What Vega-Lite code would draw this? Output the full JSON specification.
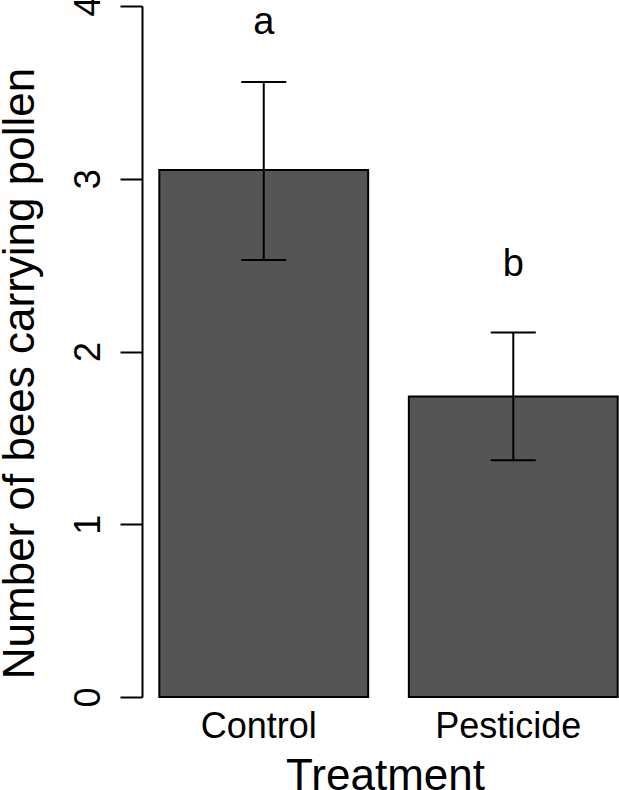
{
  "$schema": "https://vega.github.io/schema/vega-lite/v6.json",
  "width": 477,
  "height": 691,
  "autosize": {"type": "none"},
  "padding": {"left": 142, "top": 6, "right": 0, "bottom": 93},
  "background": "white",
  "config": {"view": {"stroke": null}, "font": "Liberation Sans"},
  "data": {
    "values": [
      {"treatment": "Control", "mean": 3.05, "lower": 2.53, "upper": 3.56, "letter": "a", "letter_y": 3.9},
      {"treatment": "Pesticide", "mean": 1.74, "lower": 1.37, "upper": 2.11, "letter": "b", "letter_y": 2.5}
    ]
  },
  "encoding": {
    "x": {
      "field": "treatment",
      "type": "nominal",
      "sort": null,
      "scale": {"paddingInner": 0.163, "paddingOuter": 0.0373, "align": 0.93},
      "axis": {
        "title": "Treatment",
        "domain": false,
        "ticks": false,
        "tickSize": 0,
        "labelAngle": 0,
        "labelFontSize": 36,
        "labelColor": "black",
        "labelBaseline": "alphabetic",
        "labelPadding": 40,
        "labelOffset": -5,
        "titleFontSize": 44,
        "titleFontWeight": "normal",
        "titleColor": "black",
        "titleX": 243,
        "titleY": 92,
        "titleAlign": "center",
        "titleBaseline": "alphabetic"
      }
    }
  },
  "layer": [
    {
      "mark": {"type": "bar", "fill": "#555555", "stroke": "black", "strokeWidth": 2, "opacity": 1},
      "encoding": {
        "y": {
          "field": "mean",
          "type": "quantitative",
          "scale": {"domain": [0, 4], "nice": false, "zero": true},
          "axis": {
            "title": "Number of bees carrying pollen",
            "values": [0, 1, 2, 3, 4],
            "format": "d",
            "grid": false,
            "domainColor": "black",
            "domainWidth": 2,
            "tickColor": "black",
            "tickWidth": 2,
            "tickSize": 22,
            "labelFontSize": 36,
            "labelColor": "black",
            "labelAngle": -90,
            "labelAlign": "center",
            "labelBaseline": "alphabetic",
            "labelPadding": 21,
            "labelFlush": false,
            "labelOverlap": false,
            "titleFontSize": 44,
            "titleFontWeight": "normal",
            "titleColor": "black",
            "titleAngle": -90,
            "titleX": -109,
            "titleY": 367,
            "titleAlign": "center",
            "titleBaseline": "alphabetic"
          }
        }
      }
    },
    {
      "mark": {"type": "rule", "color": "black", "strokeWidth": 2, "opacity": 1},
      "encoding": {
        "y": {"field": "lower", "type": "quantitative"},
        "y2": {"field": "upper"}
      }
    },
    {
      "mark": {"type": "tick", "color": "black", "size": 45, "thickness": 2, "opacity": 1},
      "encoding": {"y": {"field": "lower", "type": "quantitative"}}
    },
    {
      "mark": {"type": "tick", "color": "black", "size": 45, "thickness": 2, "opacity": 1},
      "encoding": {"y": {"field": "upper", "type": "quantitative"}}
    },
    {
      "mark": {"type": "text", "fontSize": 38, "baseline": "middle", "align": "center", "color": "black"},
      "encoding": {
        "y": {"field": "letter_y", "type": "quantitative"},
        "text": {"field": "letter"}
      }
    }
  ]
}
